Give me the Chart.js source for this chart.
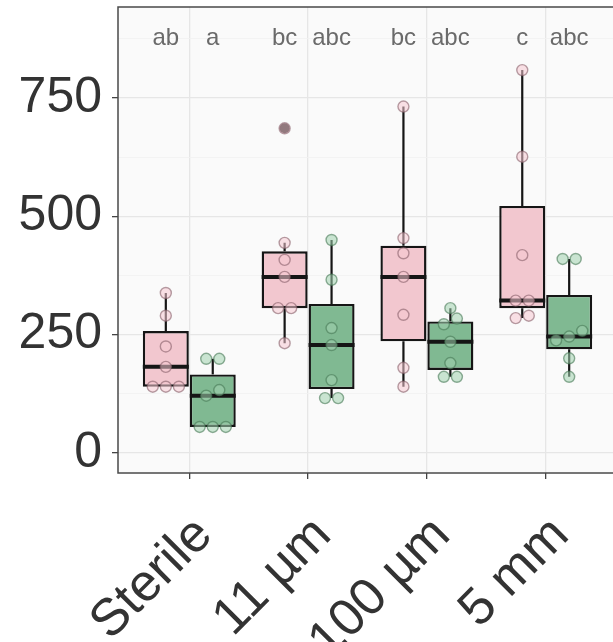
<!DOCTYPE html>
<html>
<head>
<meta charset="utf-8">
<script src="https://cdn.jsdelivr.net/npm/chart.js@4.4.1/dist/chart.umd.min.js"></script>
<style>
  html, body { margin: 0; padding: 0; background: #fff; overflow: hidden; }
  #wrap { width: 625px; height: 642px; }
</style>
</head>
<body>
<div id="wrap"><canvas id="boxChart"></canvas></div>
<script>
// ===== DATA =====
var categories = ['Sterile', '11 µm', '100 µm', '5 mm'];
var pinkValues = [
    [338, 290, 225, 182, 140, 140, 140],
    [686, 444, 408, 372, 306, 306, 232],
    [732, 454, 422, 372, 292, 180, 140],
    [809, 626, 418, 322, 322, 290, 285]
];
var greenValues = [
    [199, 199, 133, 121, 55, 55, 55],
    [450, 366, 264, 228, 154, 116, 116],
    [306, 284, 272, 235, 190, 161, 161],
    [410, 410, 258, 246, 238, 200, 161]
];
var pinkLetters = ['ab', 'bc', 'bc', 'c'];
var greenLetters = ['a', 'abc', 'abc', 'abc'];
var yTickLabels = [0, 250, 500, 750];

// ===== SETTINGS =====
var DODGE = 0.1975;
var LETTER_Y = 862;
var FONT = "'Liberation Sans', Arial, sans-serif";

function quantile(s, p) {
    var h = (s.length - 1) * p, lo = Math.floor(h);
    var next = lo + 1 < s.length ? s[lo + 1] : s[lo];
    return s[lo] + (h - lo) * (next - s[lo]);
}

function boxStats(vals) {
    var s = vals.slice().sort(function (a, b) { return a - b; });
    var q1 = quantile(s, 0.25), med = quantile(s, 0.5), q3 = quantile(s, 0.75);
    var iqr = q3 - q1, lo = q1 - 1.5 * iqr, hi = q3 + 1.5 * iqr;
    var inside = s.filter(function (v) { return v >= lo && v <= hi; });
    return {
        q1: q1, med: med, q3: q3,
        min: inside[0], max: inside[inside.length - 1],
        out: s.filter(function (v) { return v < lo || v > hi; })
    };
}

// side-by-side placement of points with nearly equal values
function swarm(groups, shift) {
    var pts = [];
    groups.forEach(function (vals, i) {
        var s = vals.slice().sort(function (a, b) { return a - b; });
        var a = 0;
        while (a < s.length) {
            var b = a;
            while (b + 1 < s.length && s[b + 1] - s[b] < 14) b++;
            var n = b - a + 1;
            for (var k = 0; k < n; k++) {
                pts.push({ x: i + shift + (k - (n - 1) / 2) * 0.11, y: s[a + k] });
            }
            a = b + 1;
        }
    });
    return pts;
}

var pinkStats = pinkValues.map(boxStats);
var greenStats = greenValues.map(boxStats);

function boxData(stats) {
    return stats.map(function (st, i) { return { x: i, y: [st.q1, st.q3] }; });
}

// major ticks plus a minor one half way between
var yStep = yTickLabels[1] - yTickLabels[0];
var yAllTicks = [];
yTickLabels.forEach(function (v) { yAllTicks.push(v, v + yStep / 2); });
function isMajor(v) { return yTickLabels.indexOf(v) >= 0; }

// ===== PLUGINS =====
var panelPlugin = {
    id: 'panel',
    beforeDraw: function (chart) {
        var a = chart.chartArea, ctx = chart.ctx;
        ctx.save();
        ctx.fillStyle = '#fafafa';
        ctx.fillRect(a.left, a.top, a.right - a.left, a.bottom - a.top);
        ctx.restore();
    },
    beforeDatasetsDraw: function (chart) { chart.$boxDone = false; },
    beforeDatasetDraw: function (chart, args) {
        if (chart.$boxDone || chart.data.datasets[args.index].type !== 'scatter') return;
        chart.$boxDone = true;
        var ctx = chart.ctx, y = chart.scales.y;
        [[0, pinkStats], [1, greenStats]].forEach(function (pair) {
            var bars = chart.getDatasetMeta(pair[0]).data;
            pair[1].forEach(function (st, i) {
                var bar = bars[i], half = bar.width / 2;
                ctx.save();
                ctx.strokeStyle = '#151515';
                ctx.lineWidth = 2.2;
                ctx.beginPath();
                ctx.moveTo(bar.x, y.getPixelForValue(st.q3));
                ctx.lineTo(bar.x, y.getPixelForValue(st.max));
                ctx.moveTo(bar.x, y.getPixelForValue(st.q1));
                ctx.lineTo(bar.x, y.getPixelForValue(st.min));
                ctx.stroke();
                ctx.lineWidth = 4;
                ctx.beginPath();
                ctx.moveTo(bar.x - half, y.getPixelForValue(st.med));
                ctx.lineTo(bar.x + half, y.getPixelForValue(st.med));
                ctx.stroke();
                ctx.fillStyle = '#1a1a1a';
                st.out.forEach(function (v) {
                    ctx.beginPath();
                    ctx.arc(bar.x, y.getPixelForValue(v), 5, 0, Math.PI * 2);
                    ctx.fill();
                });
                ctx.restore();
            });
        });
    },
    afterDraw: function (chart) {
        var a = chart.chartArea, ctx = chart.ctx, y = chart.scales.y;
        ctx.save();
        ctx.strokeStyle = '#4a4a4a';
        ctx.lineWidth = 1.5;
        ctx.strokeRect(a.left, a.top, a.right - a.left, a.bottom - a.top);
        ctx.fillStyle = '#6a6a6a';
        ctx.font = '24px ' + FONT;
        ctx.textAlign = 'center';
        ctx.textBaseline = 'alphabetic';
        [[0, pinkLetters], [1, greenLetters]].forEach(function (pair) {
            var bars = chart.getDatasetMeta(pair[0]).data;
            pair[1].forEach(function (t, i) {
                ctx.fillText(t, bars[i].x, y.getPixelForValue(LETTER_Y));
            });
        });
        ctx.restore();
    }
};

// ===== BOX PLOT =====
var ctx = document.getElementById('boxChart').getContext('2d');
new Chart(ctx, {
    type: 'bar',
    data: {
        datasets: [{
            type: 'bar',
            data: boxData(pinkStats),
            backgroundColor: '#f2c7cf',
            borderColor: '#151515',
            borderWidth: 2.4,
            borderSkipped: false,
            categoryPercentage: 0.79,
            barPercentage: 0.98,
            order: 2
        }, {
            type: 'bar',
            data: boxData(greenStats),
            backgroundColor: '#80b992',
            borderColor: '#151515',
            borderWidth: 2.4,
            borderSkipped: false,
            categoryPercentage: 0.79,
            barPercentage: 0.98,
            order: 2
        }, {
            type: 'scatter',
            data: swarm(pinkValues, -DODGE),
            pointRadius: 5.5,
            backgroundColor: 'rgba(245, 200, 210, 0.55)',
            borderColor: 'rgba(135, 95, 105, 0.6)',
            borderWidth: 1.4,
            order: 1
        }, {
            type: 'scatter',
            data: swarm(greenValues, DODGE),
            pointRadius: 5.5,
            backgroundColor: 'rgba(160, 210, 175, 0.55)',
            borderColor: 'rgba(70, 120, 85, 0.6)',
            borderWidth: 1.4,
            order: 1
        }]
    },
    options: {
        responsive: true,
        maintainAspectRatio: false,
        animation: false,
        layout: { padding: { top: 7, right: 8, left: 0, bottom: 0 } },
        plugins: { legend: { display: false }, tooltip: { enabled: false } },
        scales: {
            x: {
                type: 'linear',
                min: -0.6, max: 3.6,
                offset: false,
                afterBuildTicks: function (s) {
                    s.ticks = categories.map(function (c, i) { return { value: i }; });
                },
                afterFit: function (s) {
                    s.height = 169;
                    s.paddingLeft = 0; s.paddingRight = 0;
                },
                ticks: {
                    autoSkip: false,
                    minRotation: 45, maxRotation: 45,
                    padding: -3.5,
                    labelOffset: 15,
                    color: '#333',
                    font: { size: 52, family: FONT, lineHeight: 2.8 },
                    callback: function (v) { return categories[v]; }
                },
                grid: { offset: false, color: '#e6e6e6', lineWidth: 1.3, tickColor: '#444', tickLength: 6 },
                border: { display: false }
            },
            y: {
                min: -42.3, max: 942.3,
                afterBuildTicks: function (s) {
                    s.ticks = yAllTicks.map(function (v) { return { value: v }; });
                },
                afterFit: function (s) {
                    s.width = 118;
                    s.paddingTop = 0; s.paddingBottom = 0;
                },
                ticks: {
                    autoSkip: false,
                    padding: 10,
                    color: '#333',
                    font: { size: 50, family: FONT },
                    callback: function (v) { return isMajor(v) ? v : ''; }
                },
                grid: {
                    color: function (c) { return isMajor(c.tick.value) ? '#e6e6e6' : '#f1f1f1'; },
                    lineWidth: function (c) { return isMajor(c.tick.value) ? 1.3 : 0.8; },
                    tickColor: function (c) { return isMajor(c.tick.value) ? '#444' : 'rgba(0,0,0,0)'; },
                    tickLength: 6
                },
                border: { display: false }
            }
        }
    },
    plugins: [panelPlugin]
});
</script>
</body>
</html>
